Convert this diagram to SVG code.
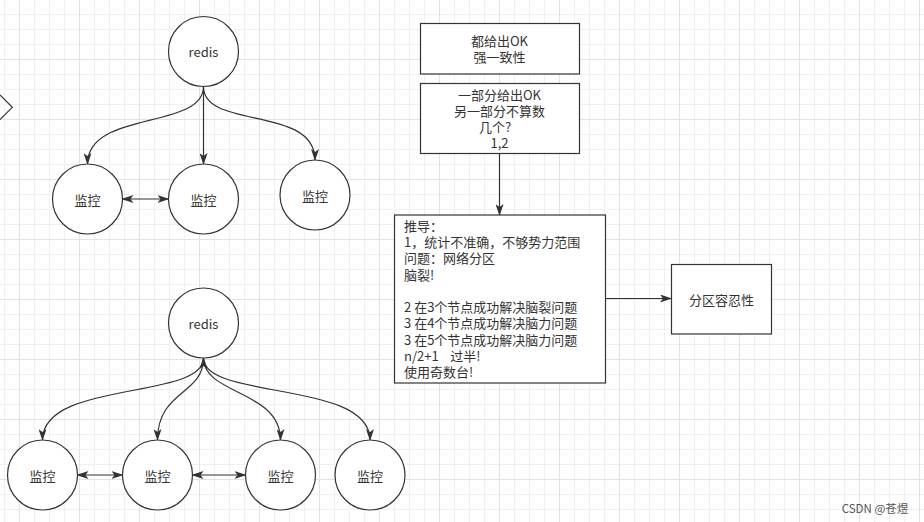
<svg xmlns="http://www.w3.org/2000/svg" width="924" height="522" viewBox="0 0 924 522">
<defs>
<pattern id="grid" patternUnits="userSpaceOnUse" x="19" y="59" width="60" height="60">
<path d="M15.5 0V60M30.5 0V60M45.5 0V60M0 15.5H60M0 30.5H60M0 45.5H60" stroke="#f0f0f0" stroke-width="1" fill="none"/>
<path d="M0.5 0V60M0 0.5H60" stroke="#e3e3e3" stroke-width="1" fill="none"/>
</pattern>
<marker id="arr" markerUnits="userSpaceOnUse" viewBox="0 0 12 8" refX="11" refY="4" markerWidth="12" markerHeight="8" orient="auto-start-reverse">
<path d="M0,0 L12,4 L0,8 L3,4 z" fill="#333"/>
</marker>
<style>
.n{fill:#fff;stroke:#333;stroke-width:1.2}
.t{font-family:"Noto Sans CJK SC","Noto Sans",sans-serif;font-size:13px;fill:#333;text-anchor:middle;dominant-baseline:central}
.l{font-family:"Noto Sans CJK SC","Noto Sans",sans-serif;font-size:13px;fill:#333;dominant-baseline:central;white-space:pre}
.e{fill:none;stroke:#333;stroke-width:1.2}
</style>
</defs>
<rect width="924" height="522" fill="#fff"/>
<rect width="924" height="522" fill="url(#grid)"/>
<path d="M0,95 L12.3,107.3 L0,119.6" fill="none" stroke="#333" stroke-width="1.2"/>

<g id="connectors">
<path class="e" d="M203.5,86.5 C203.5,130 87.5,110 87.5,164" marker-end="url(#arr)"/>
<path class="e" d="M203.5,86.5 V164" marker-end="url(#arr)"/>
<path class="e" d="M203.5,86.5 C203.5,130 315,105 315,160" marker-end="url(#arr)"/>
<path class="e" d="M122.5,199 H168.5" marker-start="url(#arr)" marker-end="url(#arr)"/>
<path class="e" d="M203.5,358 C203.5,400 42.5,380 42.5,440" marker-end="url(#arr)"/>
<path class="e" d="M203.5,358 C203.5,395 157.5,390 157.5,440" marker-end="url(#arr)"/>
<path class="e" d="M203.5,358 C203.5,395 280.5,390 280.5,440" marker-start="url(#arr)" marker-end="url(#arr)"/>
<path class="e" d="M203.5,358 C203.5,400 370,380 370,440" marker-end="url(#arr)"/>
<path class="e" d="M77.5,475 H122.5" marker-start="url(#arr)" marker-end="url(#arr)"/>
<path class="e" d="M192.5,475 H245.5" marker-start="url(#arr)" marker-end="url(#arr)"/>
<path class="e" d="M499.5,153.5 V215" marker-end="url(#arr)"/>
<path class="e" d="M605.5,298.5 H671" marker-end="url(#arr)"/>
</g>

<g id="redis1"><circle class="n" cx="203.5" cy="51.5" r="35"/><text class="t" x="203.5" y="51.5">redis</text></g>
<g id="mon1"><circle class="n" cx="87.5" cy="199" r="35"/><text class="t" x="87.5" y="199">监控</text></g>
<g id="mon2"><circle class="n" cx="203.5" cy="199" r="35"/><text class="t" x="203.5" y="199">监控</text></g>
<g id="mon3"><circle class="n" cx="315" cy="195" r="35"/><text class="t" x="315" y="195">监控</text></g>

<g id="redis2"><circle class="n" cx="203.5" cy="323" r="35"/><text class="t" x="203.5" y="323">redis</text></g>
<g id="mon4"><circle class="n" cx="42.5" cy="475" r="35"/><text class="t" x="42.5" y="475">监控</text></g>
<g id="mon5"><circle class="n" cx="157.5" cy="475" r="35"/><text class="t" x="157.5" y="475">监控</text></g>
<g id="mon6"><circle class="n" cx="280.5" cy="475" r="35"/><text class="t" x="280.5" y="475">监控</text></g>
<g id="mon7"><circle class="n" cx="370" cy="475" r="35"/><text class="t" x="370" y="475">监控</text></g>

<g id="box1"><rect class="n" x="420.5" y="23.5" width="159" height="50.5"/>
<text class="t" x="499.5" y="40.5">都给出OK</text><text class="t" x="499.5" y="56.5">强一致性</text></g>
<g id="box2"><rect class="n" x="420.5" y="83.5" width="159" height="70"/>
<text class="t" x="499.5" y="94">一部分给出OK</text><text class="t" x="499.5" y="110">另一部分不算数</text><text class="t" x="495" y="126.5">几个?</text><text class="t" x="499.5" y="142.5">1,2</text></g>
<g id="box3"><rect class="n" x="394.5" y="215" width="211" height="168"/>
<text class="l" x="404" y="225">推导：</text>
<text class="l" x="404" y="241.3">1，统计不准确，不够势力范围</text>
<text class="l" x="404" y="257.6">问题：网络分区</text>
<text class="l" x="404" y="274">脑裂!</text>
<text class="l" x="404" y="306.5">2 在3个节点成功解决脑裂问题</text>
<text class="l" x="404" y="322.8">3 在4个节点成功解决脑力问题</text>
<text class="l" x="404" y="339">3 在5个节点成功解决脑力问题</text>
<text class="l" x="404" y="355.3">n/2+1    过半!</text>
<text class="l" x="404" y="371.5">使用奇数台!</text></g>
<g id="box4"><rect class="n" x="671.5" y="264.5" width="100" height="69.5"/>
<text class="t" x="721.5" y="299">分区容忍性</text></g>

<text x="875" y="507.5" font-family="'Noto Sans CJK SC','Noto Sans',sans-serif" font-size="11.5" fill="#555" text-anchor="middle" dominant-baseline="central">CSDN @苍煜</text>
</svg>
